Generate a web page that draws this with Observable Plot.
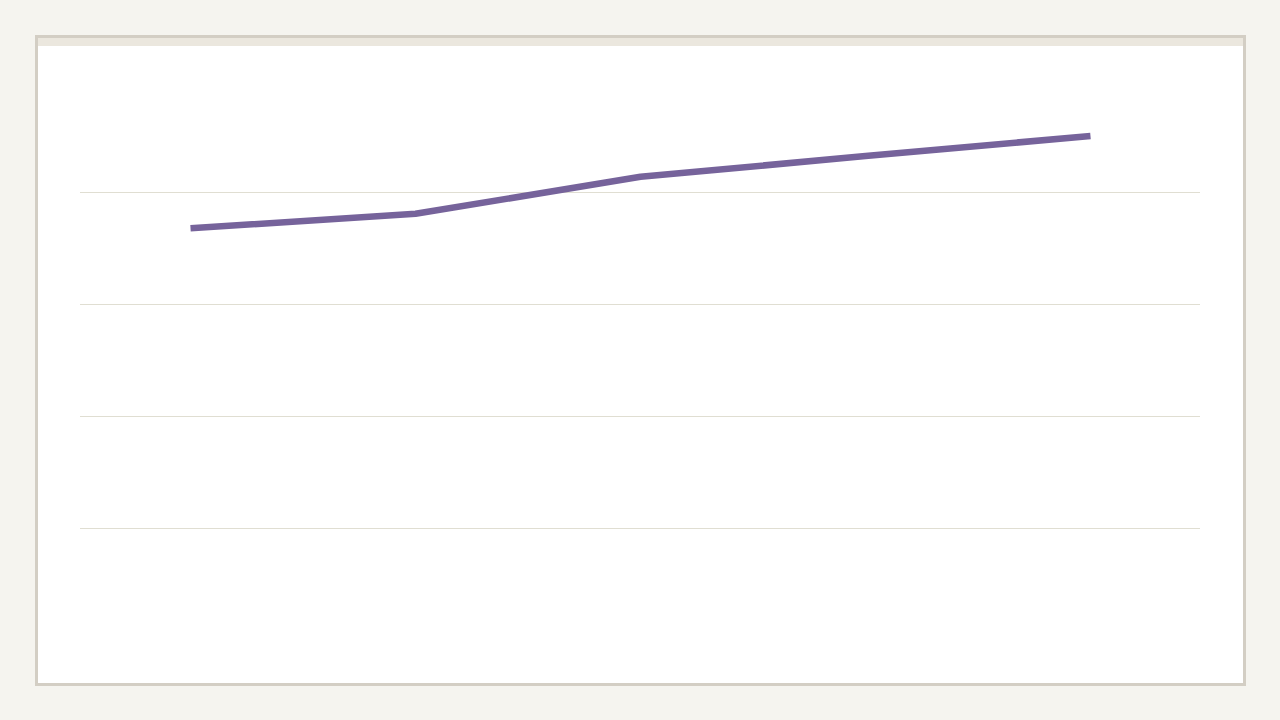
<!DOCTYPE html>
<html>
<head>
<meta charset="utf-8">
<script src="https://cdn.jsdelivr.net/npm/d3@7"></script>
<script src="https://cdn.jsdelivr.net/npm/@observablehq/plot@0.6"></script>
<style>
  html, body { margin: 0; padding: 0; background: #f5f4ef; width: 1280px; height: 720px; overflow: hidden; font-family: "Noto Sans", sans-serif; }
  #card { position: absolute; left: 35px; top: 35px; width: 1205px; height: 645px; border: 3px solid #d3cec4; background: #ffffff; }
  #strip { position: absolute; left: 0; top: 0; width: 1205px; height: 8px; background: #ebe7de; }
  #chart { position: absolute; left: 0; top: 8px; }
</style>
</head>
<body>
<div id="card"><div id="strip"></div><div id="chart"></div></div>
<script>
const categories = ["1", "2", "3", "4", "5"];
const values = [73.6, 76.2, 82.8, 86.5, 90.1];
const gridTicks = [20, 40, 60, 80];

const data = categories.map((c, i) => ({cat: c, value: values[i]}));

const chart = Plot.plot({
  width: 1204,
  height: 636,
  marginLeft: 42,
  marginRight: 42,
  marginTop: 34,
  marginBottom: 42,
  style: {background: "transparent"},
  x: {type: "point", domain: categories, padding: 0.489, round: false, axis: null},
  y: {domain: [0, 100], axis: null},
  marks: [
    Plot.gridY(gridTicks, {stroke: "#e0ded2", strokeOpacity: 1, strokeWidth: 1}),
    Plot.line(data, {x: "cat", y: "value", stroke: "#76639b", strokeWidth: 6.5, curve: "linear", strokeLinecap: "butt", strokeLinejoin: "round"})
  ]
});
document.getElementById("chart").appendChild(chart);
</script>
</body>
</html>
